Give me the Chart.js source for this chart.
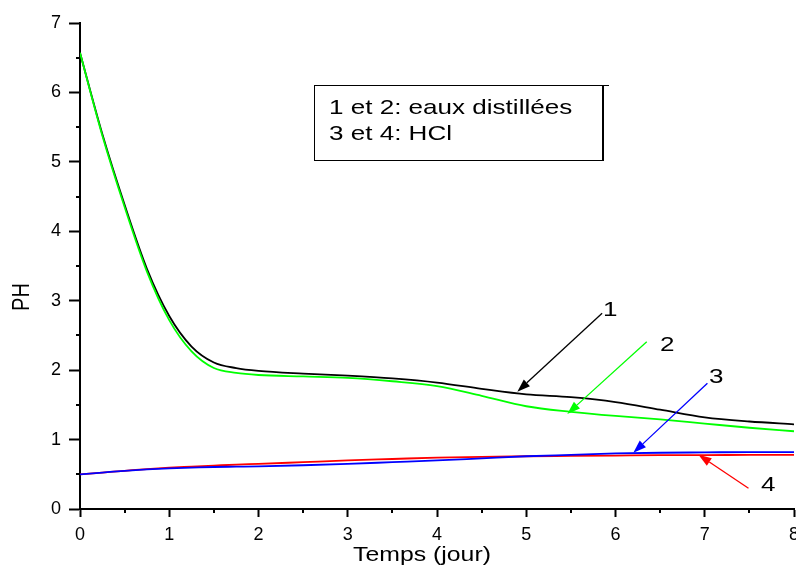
<!DOCTYPE html>
<html>
<head>
<meta charset="utf-8">
<script src="https://cdn.jsdelivr.net/npm/chart.js@4.4.0/dist/chart.umd.min.js"></script>
<style>
html, body { margin: 0; padding: 0; background: #fff; }
</style>
</head>
<body>
<canvas id="phChart" width="796" height="567"></canvas>
<script>
// temps (jour)
const temps = [0, 0.25, 0.5, 0.75, 1, 1.25, 1.5, 1.75, 2, 2.5, 3, 3.5, 4, 4.5, 5, 5.5, 6, 6.5, 7, 7.5, 8];
// courbe 1 et 2 : eaux distillees
const ph1 = [6.57, 5.40, 4.38, 3.46, 2.78, 2.34, 2.11, 2.03, 1.99, 1.95, 1.92, 1.88, 1.82, 1.73, 1.65, 1.61, 1.54, 1.43, 1.32, 1.26, 1.22];
const ph2 = [6.57, 5.38, 4.35, 3.42, 2.72, 2.27, 2.03, 1.96, 1.93, 1.91, 1.89, 1.84, 1.77, 1.63, 1.48, 1.40, 1.34, 1.29, 1.23, 1.17, 1.12];
// courbe 3 et 4 : HCl
const ph3 = [0.50, 0.525, 0.55, 0.57, 0.585, 0.595, 0.605, 0.61, 0.615, 0.63, 0.65, 0.675, 0.70, 0.73, 0.76, 0.78, 0.80, 0.81, 0.815, 0.82, 0.82];
const ph4 = [0.50, 0.525, 0.55, 0.575, 0.595, 0.61, 0.625, 0.64, 0.65, 0.675, 0.70, 0.72, 0.74, 0.75, 0.76, 0.765, 0.77, 0.775, 0.775, 0.78, 0.78];

const xTicks = [0, 1, 2, 3, 4, 5, 6, 7, 8];
const yTicks = [0, 1, 2, 3, 4, 5, 6, 7];

// fleches (en unites du graphe)
const arrowLabels = ['1', '2', '3', '4'];
const arrowTail = [[5.85, 2.82], [6.35, 2.41], [7.03, 1.81], [7.49, 0.30]];
const arrowHead = [[4.90, 1.69], [5.46, 1.37], [6.20, 0.81], [6.93, 0.78]];
const labelPos = [[5.94, 2.89], [6.58, 2.39], [7.13, 1.92], [7.71, 0.37]];

const legendLines = ['1 et 2: eaux distillées', '3 et 4: HCl'];

const FONT = '"Liberation Sans", Arial, sans-serif';

function serie(label, values, color, order) {
    return {
        label: label,
        data: temps.map((t, i) => ({x: t, y: values[i]})),
        borderColor: color,
        borderWidth: 1.8,
        pointRadius: 0,
        fill: false,
        cubicInterpolationMode: 'monotone',
        order: order
    };
}

function wideText(ctx, text, x, y, size, align, rot) {
    ctx.save();
    ctx.translate(x, y);
    ctx.scale(1.24, 1);
    if (rot) ctx.rotate(rot);
    ctx.font = size + 'px ' + FONT;
    ctx.fillStyle = '#000';
    ctx.textAlign = align;
    ctx.textBaseline = 'alphabetic';
    ctx.fillText(text, 0, 0);
    ctx.restore();
}

const decor = {
    id: 'decor',
    afterDraw(chart) {
        const ctx = chart.ctx;
        const xs = chart.scales.x, ys = chart.scales.y;
        const area = chart.chartArea;

        // petites graduations
        ctx.save();
        ctx.strokeStyle = '#000';
        ctx.lineWidth = 2;
        for (let v = 0.5; v < 8; v += 1) {
            const px = Math.round(xs.getPixelForValue(v));
            ctx.beginPath();
            ctx.moveTo(px, area.bottom);
            ctx.lineTo(px, area.bottom + 4);
            ctx.stroke();
        }
        for (let v = 0.5; v < 7; v += 1) {
            const py = Math.round(ys.getPixelForValue(v));
            ctx.beginPath();
            ctx.moveTo(area.left, py);
            ctx.lineTo(area.left - 4, py);
            ctx.stroke();
        }
        ctx.restore();

        // fleches
        arrowLabels.forEach((lab, i) => {
            const color = chart.data.datasets[i].borderColor;
            const x0 = xs.getPixelForValue(arrowTail[i][0]), y0 = ys.getPixelForValue(arrowTail[i][1]);
            const x1 = xs.getPixelForValue(arrowHead[i][0]), y1 = ys.getPixelForValue(arrowHead[i][1]);
            const ang = Math.atan2(y1 - y0, x1 - x0);
            const len = 13, half = 4.5;
            const bx = x1 - len * Math.cos(ang), by = y1 - len * Math.sin(ang);
            ctx.save();
            ctx.strokeStyle = color;
            ctx.fillStyle = color;
            ctx.lineWidth = 1.3;
            ctx.beginPath();
            ctx.moveTo(x0, y0);
            ctx.lineTo(bx, by);
            ctx.stroke();
            ctx.beginPath();
            ctx.moveTo(x1, y1);
            ctx.lineTo(bx + half * Math.sin(ang), by - half * Math.cos(ang));
            ctx.lineTo(bx - half * Math.sin(ang), by + half * Math.cos(ang));
            ctx.closePath();
            ctx.fill();
            ctx.restore();
            wideText(ctx, lab, xs.getPixelForValue(labelPos[i][0]), ys.getPixelForValue(labelPos[i][1]) + 7.5, 21, 'center');
        });

        // cadre de legende
        ctx.save();
        ctx.strokeStyle = '#000';
        ctx.lineWidth = 1;
        ctx.strokeRect(314.5, 85.5, 288, 75);
        ctx.lineWidth = 2;
        ctx.beginPath();
        ctx.moveTo(603, 85);
        ctx.lineTo(603, 161);
        ctx.stroke();
        ctx.lineWidth = 1;
        ctx.beginPath();
        ctx.moveTo(600, 85.5);
        ctx.lineTo(609, 85.5);
        ctx.stroke();
        ctx.restore();
        wideText(ctx, legendLines[0], 329, 114, 21, 'left');
        wideText(ctx, legendLines[1], 329, 140, 21, 'left');

        // titres des axes
        wideText(ctx, 'Temps (jour)', 422, 561, 20, 'center');
        wideText(ctx, 'PH', 29, 297, 20, 'center', -Math.PI / 2);
    }
};

new Chart(document.getElementById('phChart'), {
    type: 'line',
    data: {
        datasets: [
            serie('1', ph1, '#000000', 4),
            serie('2', ph2, '#00ff00', 3),
            serie('3', ph3, '#0000ff', 1),
            serie('4', ph4, '#ff0000', 2)
        ]
    },
    options: {
        responsive: false,
        animation: false,
        layout: { padding: { left: 0, right: 2, top: 23, bottom: 0 } },
        plugins: {
            legend: { display: false },
            tooltip: { enabled: false }
        },
        scales: {
            x: {
                type: 'linear',
                min: 0,
                max: 8,
                afterBuildTicks(s) { s.ticks = xTicks.map(v => ({value: v})); },
                ticks: { color: '#000', font: { family: FONT, size: 18 }, padding: 7, maxRotation: 0, autoSkip: false },
                grid: { drawOnChartArea: false, drawTicks: true, tickLength: 8, tickWidth: 2, tickColor: '#000' },
                border: { display: true, color: '#000', width: 2 },
                afterFit(s) { s.height = 58; s.paddingLeft = 0; s.paddingRight = 0; }
            },
            y: {
                type: 'linear',
                min: 0,
                max: 7,
                afterBuildTicks(s) { s.ticks = yTicks.map(v => ({value: v})); },
                ticks: { color: '#000', font: { family: FONT, size: 18 }, padding: 8, autoSkip: false },
                grid: { drawOnChartArea: false, drawTicks: true, tickLength: 11, tickWidth: 2, tickColor: '#000' },
                border: { display: true, color: '#000', width: 2 },
                afterFit(s) { s.width = 80; s.paddingTop = 0; s.paddingBottom = 0; }
            }
        }
    },
    plugins: [decor]
});
</script>
</body>
</html>
